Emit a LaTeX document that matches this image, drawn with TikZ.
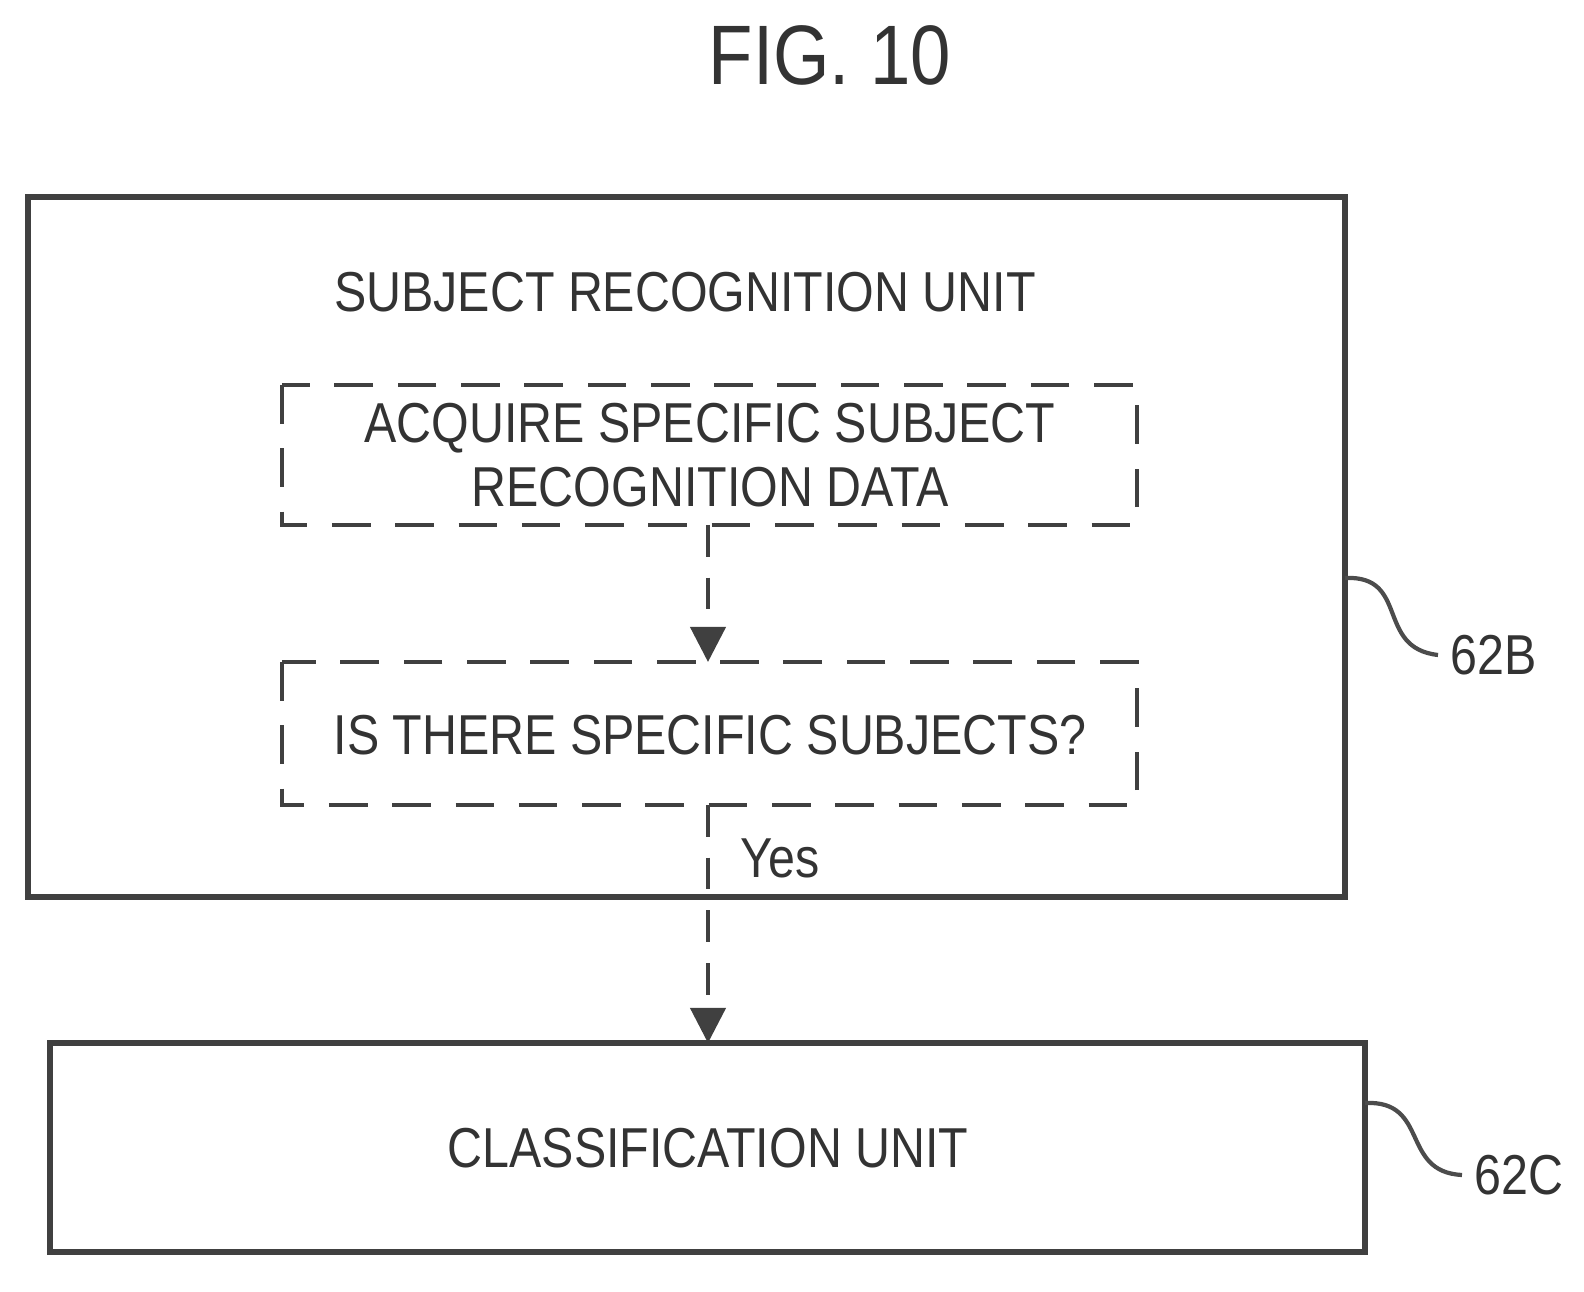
\documentclass[tikz,border=0pt]{standalone}
\usepackage{fontspec}
\setmainfont{Liberation Sans}
\usetikzlibrary{arrows.meta}
\newcommand{\narrow}[1]{\scalebox{0.86}[1]{#1}}
\tikzset{
	unit/.style = {draw, line width=1.6pt, color=black!75},
	stepbox/.style = {draw, dash pattern=on 11pt off 7pt, line width=1.2pt, color=black!75},
	flow/.style = {-{Triangle[length=10pt, width=10pt]}, dash pattern=on 9pt off 6pt, line width=1.2pt, color=black!75},
	txt/.style = {font=\fontsize{16}{20}\selectfont, color=black!80, align=center},
}
\begin{document}
\begin{tikzpicture}[x=0.01cm, y=-0.01cm]
\useasboundingbox (0, 0) rectangle (1584, 1292);

\node[font=\fontsize{24}{28}\selectfont, color=black!80] (title) at (830, 55) {\narrow{FIG. 10}};

% subject recognition unit
\draw[unit] (28, 197) rectangle (1345, 897);
\node[txt] (srname) at (685, 292) {\narrow{SUBJECT RECOGNITION UNIT}};

\draw[stepbox] (282, 385) rectangle (1137, 525);
\node[txt] (acquire) at (710, 455) {\narrow{ACQUIRE SPECIFIC SUBJECT}\\[-2pt]\narrow{RECOGNITION DATA}};
\coordinate (acqbot) at (708, 525);

\draw[stepbox] (282, 662) rectangle (1137, 805);
\node[txt] (isthere) at (710, 735) {\narrow{IS THERE SPECIFIC SUBJECTS?}};
\coordinate (isttop) at (708, 662);
\coordinate (istbot) at (708, 805);

% classification unit
\draw[unit] (50, 1043) rectangle (1365, 1252);
\node[txt] (classify) at (708, 1148) {\narrow{CLASSIFICATION UNIT}};
\coordinate (cltop) at (708, 1043);

\draw[flow] (acqbot) -- (isttop);
\draw[flow] (istbot) -- (cltop);
\node[txt, anchor=west] (yes) at (728, 858) {\narrow{Yes}};

% reference labels
\node[txt, anchor=west] (lb) at (1438, 655) {\narrow{62B}};
\node[txt, anchor=west] (lc) at (1462, 1175) {\narrow{62C}};
\draw[line width=1.2pt, color=black!70] (1345, 578) .. controls (1410, 575) and (1375, 648) .. (lb.west);
\draw[line width=1.2pt, color=black!70] (1365, 1103) .. controls (1430, 1100) and (1400, 1172) .. (lc.west);
\end{tikzpicture}
\end{document}
